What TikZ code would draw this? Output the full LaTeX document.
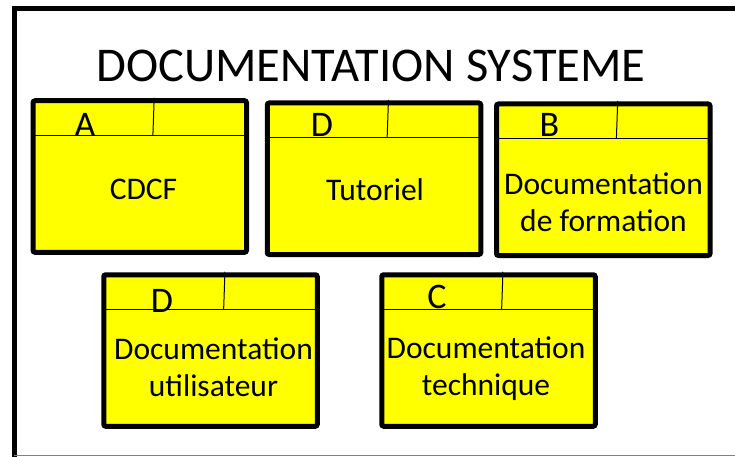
\documentclass[tikz,border=0pt]{standalone}
\usepackage{fontspec}
\setmainfont{Carlito}
\definecolor{jaune}{RGB}{255,255,0}
\begin{document}
\begin{tikzpicture}[x=1pt,y=-1pt,
    boite/.style={draw,line width=5pt,fill=jaune,rounded corners=2pt,
      minimum width=213.5pt,minimum height=151.5pt,inner sep=0pt,outer sep=0pt},
    entete/.style={line width=1.3pt},
    trait/.style={line width=1pt},
    lettre/.style={anchor=base,font=\fontsize{36}{42}\selectfont},
    texte/.style={align=center,font=\fontsize{31.5}{37}\selectfont}]
    \useasboundingbox (0,0) rectangle (735,457);

    % Cadre
    \draw[line width=5pt] (14,457) -- (14,8.3) -- (735,8.3);
    \draw[gray,line width=1pt] (14,455.5) -- (735,455.5);

    % Titre
    \node[anchor=base,font=\fontsize{48.5}{58}\selectfont] (titre) at (371,82) {DOCUMENTATION SYSTEME};

    % Boites
    \node[boite] (cdcf) at (139.75,176.5) {};
    \node[boite] (tuto) at (374,178.75) {};
    \node[boite] (form) at (603.25,179.75) {};
    \node[boite] (util) at (210.5,350.5) {};
    \node[boite] (tech) at (488.5,350.5) {};

    % Entetes des boites
    \foreach \b in {cdcf,tuto,form,util,tech} {
        \draw[entete] (\b.north west) ++(0,34.5) -- ++(213.5,0);
        \draw[trait] (\b.north west) ++(121.2,-3) -- ++(-1.3,37.5);
    }

    % Lettres
    \node[lettre] (lettreA) at (85,136.5) {A};
    \node[lettre] (lettreD) at (322,137) {D};
    \node[lettre] (lettreB) at (549.5,136.5) {B};
    \node[lettre] (lettreDu) at (162,312.5) {D};
    \node[lettre] (lettreC) at (437,308) {C};

    % Textes
    \node[texte,anchor=base] (txtcdcf) at (143.5,199) {CDCF};
    \node[texte,anchor=base] (txttuto) at (375,200) {Tutoriel};
    \node[texte] (txtform) at (603.5,202.5) {Documentation\\de formation};
    \node[texte] (txtutil) at (213.5,367.5) {Documentation\\utilisateur};
    \node[texte] (txttech) at (486,368.5) {Documentation\\technique};
\end{tikzpicture}
\end{document}
